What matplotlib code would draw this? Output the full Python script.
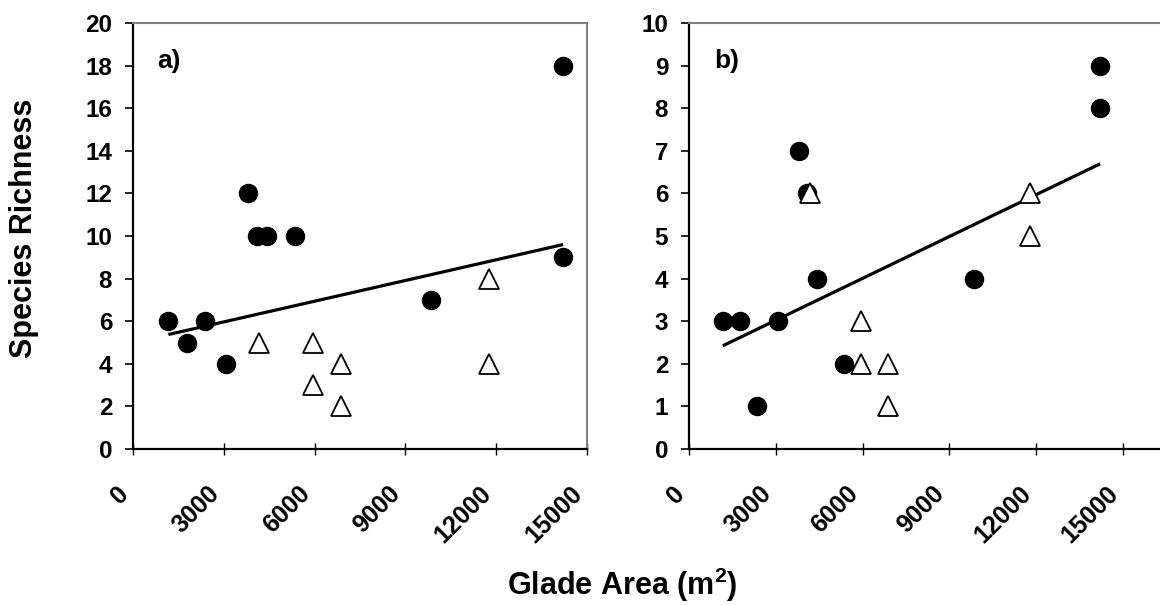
import matplotlib
matplotlib.use('Agg')
import numpy as np
import matplotlib.pyplot as plt

plt.rcParams['font.family'] = ['Liberation Sans', 'DejaVu Sans']
plt.rcParams['font.weight'] = 'bold'
plt.rcParams['mathtext.fontset'] = 'custom'
plt.rcParams['mathtext.rm'] = 'Liberation Sans:bold'
plt.rcParams['mathtext.bf'] = 'Liberation Sans:bold'

# glade areas (m2)
area_circ = [1170, 1770, 2380, 3070, 3815, 4085, 4420, 5350, 9860, 14210, 14210]
area_tri = [4175, 5935, 5935, 6885, 6885, 11770, 11770]

# panel a) species richness
rich_a_circ = [6, 5, 6, 4, 12, 10, 10, 10, 7, 18, 9]
rich_a_tri = [5, 5, 3, 4, 2, 8, 4]
# panel b) species richness
area_b_circ = [1170, 1770, 2350, 3070, 3815, 4085, 4420, 5350, 9860, 14210, 14210]
rich_b_circ = [3, 3, 1, 3, 7, 6, 4, 2, 4, 9, 8]
rich_b_tri = [6, 3, 2, 2, 1, 6, 5]

# trend lines (slope, intercept)
fit_a = (3.24e-4, 4.995)
fit_b = (3.276e-4, 2.04)

xticks = [0, 3000, 6000, 9000, 12000, 15000]

fig = plt.figure(figsize=(11.6, 6.05), dpi=100)
ax_a = fig.add_axes([133 / 1160, 156 / 605, 454 / 1160, 426 / 605])
ax_b = fig.add_axes([689 / 1160, 156 / 605, 476 / 1160, 426 / 605])

panels = [
    (ax_a, area_circ, rich_a_circ, rich_a_tri, fit_a, 20, 2, 15000, 'a)'),
    (ax_b, area_b_circ, rich_b_circ, rich_b_tri, fit_b, 10, 1, 15000 * 476 / 434, 'b)'),
]

for ax, xc, yc, yt, fit, ymax, ystep, xmax, lab in panels:
    allx = np.array(xc + area_tri)
    xs = np.array([allx.min(), allx.max()])
    ax.plot(xs, fit[0] * xs + fit[1], color='black', lw=2.3, zorder=2,
            solid_capstyle='butt')
    ax.plot(xc, yc, 'o', ms=13, color='black', zorder=3, clip_on=False)
    ax.plot(area_tri, yt, '^', ms=14, mfc='white', mec='black', mew=1.3,
            zorder=4, clip_on=False)
    ax.set_xlim(0, xmax)
    ax.set_ylim(0, ymax)
    ax.set_yticks(np.arange(0, ymax + 1, ystep))
    ax.set_xticks(xticks)
    ax.set_xticklabels([str(v) for v in xticks], rotation=45, ha='right',
                       va='top', fontsize=18, fontweight='bold')
    ax.tick_params(axis='y', direction='out', length=6, width=1.2,
                   labelsize=17.5, pad=9)
    ax.tick_params(axis='x', direction='inout', length=9, width=1.0,
                   pad=19)
    for s in ['left', 'bottom']:
        ax.spines[s].set_color('black')
        ax.spines[s].set_linewidth(1.6)
    for s in ['top', 'right']:
        ax.spines[s].set_color('#808080')
        ax.spines[s].set_linewidth(1.5)
    ax.text(0.053, 0.94, lab, transform=ax.transAxes, fontsize=19,
            fontweight='bold', ha='left', va='top')

fig.text(24 / 1160, 1 - 228 / 605, 'Species Richness', rotation=90,
         ha='center', va='center', fontsize=22, fontweight='bold')
fig.text(622 / 1160, 10 / 605, r'Glade Area (m$^{\mathbf{2}}$)',
         ha='center', va='baseline', fontsize=22, fontweight='bold')

fig.savefig('out.png', dpi=100)
